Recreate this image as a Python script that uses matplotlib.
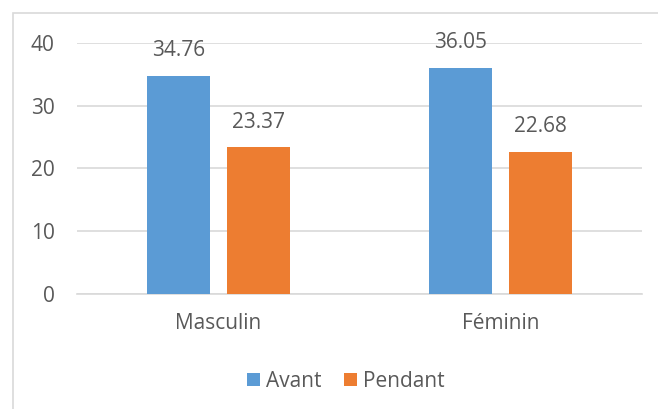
import numpy as np
import matplotlib
matplotlib.use("Agg")
import matplotlib.pyplot as plt
from matplotlib.patches import Rectangle

# ── DATA ──────────────────────────────────────────────
categories = ["Masculin", "Féminin"]
avant = [34.76, 36.05]
pendant = [23.37, 22.68]
series_names = ["Avant", "Pendant"]
y_ticks = [0, 10, 20, 30, 40]

BLUE = "#5B9BD5"
ORANGE = "#ED7D31"
TEXT = "#595959"
GRID = "#D9D9D9"
FS = 15

plt.rcParams["font.family"] = ["Open Sans", "DejaVu Sans"]

fig = plt.figure(figsize=(6.58, 4.09), dpi=100)
ax = fig.add_axes([0.117, 0.2812, 0.8587, 0.6137])

# chart border (Excel style, cropped at right/bottom)
fig.patches.append(Rectangle((0.0198, -0.05), 1.2, 0.05 + 0.968,
                             transform=fig.transFigure, fill=False,
                             edgecolor=GRID, linewidth=1.2))

x = np.arange(len(categories))
w = 0.223
off = 0.1415
b1 = ax.bar(x - off, avant, w, color=BLUE, label=series_names[0], zorder=3)
b2 = ax.bar(x + off, pendant, w, color=ORANGE, label=series_names[1], zorder=3)

for bars, vals in ((b1, avant), (b2, pendant)):
    for rect, v in zip(bars, vals):
        ax.annotate(f"{v:.2f}", (rect.get_x() + rect.get_width() / 2, v),
                    xytext=(0, 18), textcoords="offset points",
                    ha="center", va="center", fontsize=FS, color=TEXT)

ax.set_xlim(-0.5, 1.5)
ax.set_ylim(0, 40)
ax.set_yticks(y_ticks)
ax.set_xticks(x)
ax.set_xticklabels(categories)
ax.yaxis.grid(True, color=GRID, linewidth=1.2, zorder=0)
ax.set_axisbelow(True)
for s in ("top", "right", "left"):
    ax.spines[s].set_visible(False)
ax.spines["bottom"].set_color(GRID)
ax.spines["bottom"].set_linewidth(1.2)
ax.tick_params(axis="both", length=0, labelsize=FS, labelcolor=TEXT)
ax.tick_params(axis="y", pad=16)
ax.tick_params(axis="x", pad=14)

ax.legend(loc="center", bbox_to_anchor=(0.476, -0.348), ncol=2, frameon=False,
          fontsize=FS, labelcolor=TEXT, handlelength=0.6, handleheight=0.6,
          handletextpad=0.3, columnspacing=1.1)

fig.savefig("out.png", dpi=100)
